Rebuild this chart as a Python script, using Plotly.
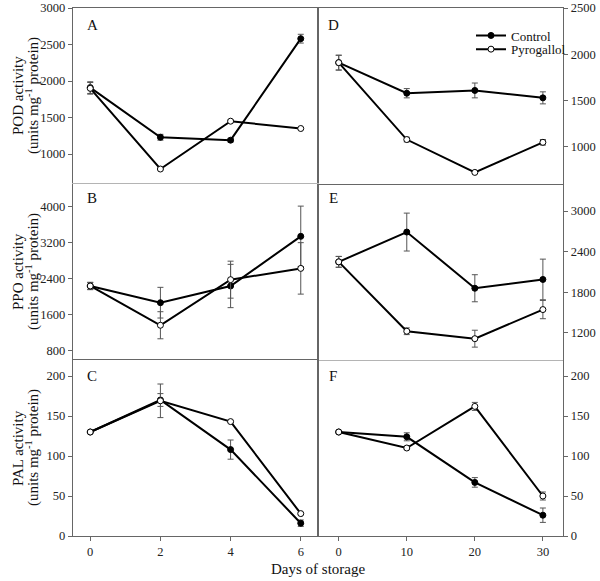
import plotly.graph_objects as go
from plotly.subplots import make_subplots

# ---------------- data ----------------
days_left = [0, 2, 4, 6]
days_right = [0, 10, 20, 30]

pod_ctrl_left = [1910, 1230, 1190, 2580]
pod_ctrl_left_err = [80, 40, 25, 60]
pod_pyro_left = [1900, 795, 1450, 1350]
pod_pyro_left_err = [80, 10, 15, 12]

ppo_ctrl_left = [2240, 1870, 2240, 3340]
ppo_ctrl_left_err = [80, 340, 480, 670]
ppo_pyro_left = [2240, 1370, 2380, 2630]
ppo_pyro_left_err = [80, 300, 410, 570]

pal_ctrl_left = [130, 170, 108, 16]
pal_ctrl_left_err = [1, 8, 12, 4]
pal_pyro_left = [130, 169, 143, 28]
pal_pyro_left_err = [1, 21, 1, 1]

pod_ctrl_right = [1910, 1580, 1610, 1530]
pod_ctrl_right_err = [80, 50, 80, 65]
pod_pyro_right = [1910, 1080, 725, 1050]
pod_pyro_right_err = [80, 25, 8, 30]

ppo_ctrl_right = [2250, 2690, 1860, 1990]
ppo_ctrl_right_err = [80, 280, 200, 300]
ppo_pyro_right = [2250, 1225, 1115, 1545]
ppo_pyro_right_err = [80, 50, 125, 135]

pal_ctrl_right = [130, 124, 67, 26]
pal_ctrl_right_err = [1, 5, 6, 9]
pal_pyro_right = [130, 110, 162, 50]
pal_pyro_right_err = [1, 2, 5, 5]

panel_letters = ["A", "D", "B", "E", "C", "F"]
y_titles = ["POD activity", "PPO activity", "PAL activity"]
y_units = "(units mg<sup>-1</sup> protein)"
x_title = "Days of storage"
series_names = ["Control", "Pyrogallol"]

# ---------------- figure ----------------
W, H = 600, 581
FONT = "Liberation Serif"
FRAME = "#666666"
LIGHT = "#b4b4b4"
ERRC = "#555555"

fig = make_subplots(rows=3, cols=2, horizontal_spacing=0, vertical_spacing=0)

panels = [
    (1, 1, days_left, pod_ctrl_left, pod_ctrl_left_err, pod_pyro_left, pod_pyro_left_err),
    (1, 2, days_right, pod_ctrl_right, pod_ctrl_right_err, pod_pyro_right, pod_pyro_right_err),
    (2, 1, days_left, ppo_ctrl_left, ppo_ctrl_left_err, ppo_pyro_left, ppo_pyro_left_err),
    (2, 2, days_right, ppo_ctrl_right, ppo_ctrl_right_err, ppo_pyro_right, ppo_pyro_right_err),
    (3, 1, days_left, pal_ctrl_left, pal_ctrl_left_err, pal_pyro_left, pal_pyro_left_err),
    (3, 2, days_right, pal_ctrl_right, pal_ctrl_right_err, pal_pyro_right, pal_pyro_right_err),
]

for (r, c, xs, yc, ec, yp, ep) in panels:
    legend_here = (r == 1 and c == 2)
    fig.add_trace(go.Scatter(
        x=xs, y=yc, name=series_names[0], mode="lines+markers",
        line=dict(color="black", width=2),
        marker=dict(symbol="circle", size=6, color="black", line=dict(color="black", width=1)),
        error_y=dict(type="data", array=ec, color=ERRC, thickness=1, width=3),
        showlegend=legend_here, legend="legend",
    ), row=r, col=c)
    fig.add_trace(go.Scatter(
        x=xs, y=yp, name=series_names[1], mode="lines+markers",
        line=dict(color="black", width=2),
        marker=dict(symbol="circle", size=6, color="white", line=dict(color="black", width=1)),
        error_y=dict(type="data", array=ep, color=ERRC, thickness=1, width=3),
        showlegend=legend_here, legend="legend2",
    ), row=r, col=c)

# pixel geometry
xl, xm, xr = 72.7, 318.3, 563.3
ys = [8, 184, 360, 536]
px = lambda v: v / W
py = lambda v: 1 - v / H

yranges = {
    (1, 1): dict(range=[590, 3000], tick0=0, dtick=500),
    (1, 2): dict(range=[600, 2500], tick0=0, dtick=500),
    (2, 1): dict(range=[600, 4500], tick0=0, dtick=800),
    (2, 2): dict(range=[800, 3400], tick0=0, dtick=600),
    (3, 1): dict(range=[0, 220], tick0=0, dtick=50),
    (3, 2): dict(range=[0, 220], tick0=0, dtick=50),
}
# horizontal frame lines per panel: (colour, side, mirror) -- no two panels draw the same edge
xline_style = {
    (1, 1): (FRAME, "top", False),     # top edge
    (2, 1): (LIGHT, "top", False),     # A/B divider
    (3, 1): (FRAME, "bottom", True),   # B/C divider + bottom axis
    (1, 2): (FRAME, "bottom", True),   # top edge + D/E divider
    (2, 2): (LIGHT, "bottom", False),  # E/F divider
    (3, 2): (FRAME, "bottom", False),  # bottom axis
}

tickfont = dict(family=FONT, size=12.5, color="#222222")
for r in (1, 2, 3):
    for c in (1, 2):
        xd = [px(xl), px(xm)] if c == 1 else [px(xm), px(xr)]
        yd = [py(ys[r]), py(ys[r - 1])]
        xrange = [-0.5, 6.5] if c == 1 else [-3, 33]
        xtv = days_left if c == 1 else days_right
        bottom = (r == 3)
        lc, side, mir = xline_style[(r, c)]
        fig.update_xaxes(
            domain=xd, range=xrange, tickvals=xtv, automargin=False, side=side,
            showticklabels=bottom, ticks="outside" if bottom else "",
            ticklen=4, tickcolor=FRAME, tickfont=tickfont,
            showline=True, mirror=mir, linecolor=lc, linewidth=1,
            showgrid=False, zeroline=False, row=r, col=c)
        fig.update_yaxes(
            domain=yd, side="left" if c == 1 else "right", automargin=False,
            ticks="outside", ticklen=4, tickcolor=FRAME, tickfont=tickfont,
            showline=True, mirror=True, linecolor=FRAME, linewidth=1,
            showgrid=False, zeroline=False, row=r, col=c, **yranges[(r, c)])

annotations = []
# panel letters
letter_pos = [(92, 25), (333, 25), (92, 198), (333, 198), (92, 376), (333, 376)]
for letter, (lx, ly) in zip(panel_letters, letter_pos):
    annotations.append(dict(x=px(lx), y=py(ly), xref="paper", yref="paper", text=letter,
                            showarrow=False, xanchor="center", yanchor="middle",
                            font=dict(family=FONT, size=15, color="#111111")))
# y titles (two lines, placed separately)
for i, t in enumerate(y_titles):
    cy = (ys[i] + ys[i + 1]) / 2
    annotations.append(dict(x=px(18), y=py(cy), xref="paper", yref="paper", text=t,
                            textangle=-90, showarrow=False, xanchor="center", yanchor="middle",
                            font=dict(family=FONT, size=15, color="#111111")))
    annotations.append(dict(x=px(32), y=py(cy), xref="paper", yref="paper", text=y_units,
                            textangle=-90, showarrow=False, xanchor="center", yanchor="middle",
                            font=dict(family=FONT, size=15, color="#111111")))
# x title
annotations.append(dict(x=px(318), y=py(569), xref="paper", yref="paper", text=x_title,
                        showarrow=False, xanchor="center", yanchor="middle",
                        font=dict(family=FONT, size=15, color="#111111")))

legend_common = dict(xanchor="left", yanchor="top", bgcolor="rgba(0,0,0,0)", borderwidth=0,
                     font=dict(family=FONT, size=13, color="#111111"), itemwidth=30)
fig.update_layout(
    template="none",
    width=W, height=H,
    margin=dict(l=0, r=0, t=0, b=0, autoexpand=False),
    paper_bgcolor="white", plot_bgcolor="white",
    font=dict(family=FONT, size=13, color="#111111"),
    annotations=annotations,
    showlegend=True,
    legend=dict(x=px(471), y=py(20.5), **legend_common),
    legend2=dict(x=px(471), y=py(34.2), **legend_common),
)

fig.write_html("out.html", config={"displayModeBar": False},
               post_script="document.body.style.margin='0px';")
